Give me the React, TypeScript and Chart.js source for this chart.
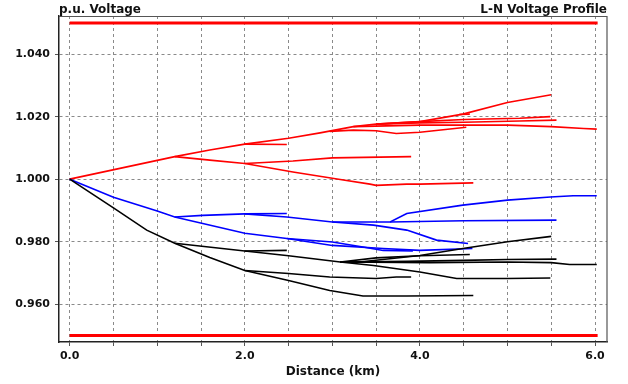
import { useEffect, useRef } from "react";
import { Chart, registerables } from "chart.js";

Chart.register(...registerables);

// ---- axis ticks ----
const xTickValues = [0, 0.5, 1, 1.5, 2, 2.5, 3, 3.5, 4, 4.5, 5, 5.5, 6];
const yTickValues = [0.96, 0.98, 1.0, 1.02, 1.04];

// ---- limits (p.u.) ----
const limitHigh = [[0, 1.05], [6.03, 1.05]];
const limitLow = [[0, 0.95], [6.03, 0.95]];

// ---- red phase: [km, p.u.] ----
const red1 = [[0, 1.0], [0.6, 1.0036], [1.2, 1.0072], [1.6, 1.0093], [2.0, 1.0112], [2.5, 1.0131], [2.86, 1.0148], [3.24, 1.0168], [3.5, 1.0176], [4.0, 1.0184], [4.49, 1.0208], [5.0, 1.0245], [5.5, 1.027]];
const red2 = [[2.0, 1.0112], [2.48, 1.0111]];
const red3 = [[3.5, 1.0176], [4.0, 1.0184], [4.5, 1.0191], [5.14, 1.0195], [5.49, 1.02]];
const red4 = [[3.5, 1.0176], [4.0, 1.018], [4.5, 1.0182], [5.14, 1.0186], [5.56, 1.0189]];
const red5 = [[3.24, 1.0168], [4.0, 1.0173], [5.0, 1.0173], [5.5, 1.0168], [5.87, 1.0162], [6.02, 1.016]];
const red6 = [[2.97, 1.0153], [3.24, 1.0157], [3.5, 1.0155], [3.73, 1.0146], [4.0, 1.015], [4.53, 1.0166]];
const red7 = [[4.45, 1.0207], [4.57, 1.0208]];
const red8 = [[1.2, 1.0072], [1.6, 1.0061], [2.0, 1.005], [2.55, 1.0058], [3.0, 1.0068], [3.9, 1.0072]];
const red9 = [[2.0, 1.005], [2.55, 1.0023], [3.09, 0.9999], [3.43, 0.9984], [3.5, 0.998], [3.85, 0.9984], [4.0, 0.9984], [4.61, 0.9988]];

// ---- blue phase ----
const blue1 = [[0, 1.0], [0.5, 0.9942], [1.0, 0.9898], [1.2, 0.9879], [1.52, 0.9884], [2.0, 0.9889], [2.48, 0.989]];
const blue2 = [[2.0, 0.9889], [2.48, 0.9879], [3.0, 0.9863], [3.66, 0.9863], [3.85, 0.989], [4.49, 0.9917], [5.0, 0.9933], [5.49, 0.9943], [5.75, 0.9947], [6.02, 0.9947]];
const blue3 = [[3.66, 0.9863], [4.5, 0.9867], [5.56, 0.9869]];
const blue4 = [[3.0, 0.9863], [3.47, 0.9853], [3.85, 0.9837], [4.19, 0.9805], [4.55, 0.9794]];
const blue5 = [[1.2, 0.9879], [2.0, 0.9827], [2.48, 0.981], [3.0, 0.9788], [3.58, 0.9778], [4.0, 0.9772], [4.6, 0.9778]];
const blue6 = [[2.48, 0.981], [3.0, 0.9799], [3.35, 0.9783], [3.58, 0.9772], [3.92, 0.977]];

// ---- black phase ----
const black1 = [[0, 1.0], [0.5, 0.9908], [0.88, 0.9837], [1.2, 0.9795], [1.6, 0.9749], [2.0, 0.9708], [2.5, 0.9676], [2.97, 0.9644], [3.35, 0.9626], [3.85, 0.9626], [4.61, 0.9628]];
const black2 = [[2.0, 0.9708], [2.5, 0.9698], [2.97, 0.9687], [3.5, 0.9682], [3.73, 0.9687], [3.9, 0.9687]];
const black3 = [[1.2, 0.9795], [2.0, 0.977], [2.48, 0.9772]];
const black4 = [[2.0, 0.977], [2.5, 0.9755], [3.09, 0.9735], [3.31, 0.9735], [4.0, 0.9756], [4.49, 0.9778], [5.0, 0.98], [5.5, 0.9817]];
const black5 = [[3.09, 0.9735], [3.5, 0.9748], [4.0, 0.9755], [4.57, 0.9759]];
const black6 = [[3.09, 0.9735], [3.85, 0.9737], [4.5, 0.974], [5.0, 0.9743], [5.56, 0.9744]];
const black7 = [[3.09, 0.9735], [4.11, 0.9733], [5.0, 0.9735], [5.5, 0.9733], [5.71, 0.9727], [6.02, 0.9727]];
const black8 = [[3.09, 0.9735], [3.47, 0.9724], [4.0, 0.9703], [4.42, 0.9682], [5.0, 0.9682], [5.49, 0.9684]];

const blackSeries = [black1, black2, black3, black4, black5, black6, black7, black8];
const blueSeries = [blue1, blue2, blue3, blue4, blue5, blue6];
const redSeries = [red1, red2, red3, red4, red5, red6, red7, red8, red9];

const FONT = '"DejaVu Sans", Verdana, sans-serif';

const toPts = (arr: number[][]) => arr.map(([x, y]) => ({ x, y }));

const framePlugin = {
  id: "frame",
  afterDraw(chart: any) {
    const { ctx, chartArea: a } = chart;
    ctx.save();
    ctx.strokeStyle = "#555";
    ctx.lineWidth = 1.2;
    ctx.beginPath();
    ctx.moveTo(a.left, a.top + 0.5);
    ctx.lineTo(a.right, a.top + 0.5);
    ctx.moveTo(a.right, a.top);
    ctx.lineTo(a.right, a.bottom);
    ctx.stroke();
    ctx.fillStyle = "#111";
    ctx.font = `bold 12px ${FONT}`;
    ctx.textBaseline = "alphabetic";
    ctx.textAlign = "left";
    ctx.fillText("p.u. Voltage", a.left, 13);
    ctx.textAlign = "right";
    ctx.fillText("L-N Voltage Profile", a.right, 13);
    ctx.restore();
  },
};

export default function App() {
  const ref = useRef<HTMLCanvasElement | null>(null);
  useEffect(() => {
    if (!ref.current) return;
    const mk = (arr: number[][], color: string, w = 1.6) => ({
      data: toPts(arr),
      borderColor: color,
      backgroundColor: color,
      borderWidth: w,
      pointRadius: 0,
      tension: 0,
      fill: false,
    });
    const datasets = [
      ...blackSeries.map((s) => mk(s, "#000000")),
      ...blueSeries.map((s) => mk(s, "#0000ff")),
      ...redSeries.map((s) => mk(s, "#ff0000")),
      mk(limitHigh, "#ff0000", 3),
      mk(limitLow, "#ff0000", 3),
    ];
    const gridOpts = {
      color: "#8a8a8a",
      lineWidth: 1,
      tickLength: 4,
      tickColor: "#555",
      tickBorderDash: [],
    };
    const borderOpts = { display: true, color: "#222", width: 1.5, dash: [3, 3] };
    const chart = new Chart(ref.current, {
      type: "line",
      data: { datasets },
      plugins: [framePlugin],
      options: {
        responsive: false,
        animation: false,
        layout: { padding: { top: 16, right: 21, left: 0, bottom: 0 } },
        plugins: { legend: { display: false }, tooltip: { enabled: false } },
        scales: {
          x: {
            type: "linear",
            min: -0.122,
            max: 6.137,
            afterFit: (axis: any) => {
              axis.height = 42;
            },
            afterBuildTicks: (axis: any) => {
              axis.ticks = xTickValues.map((v) => ({ value: v }));
            },
            ticks: {
              autoSkip: false,
              maxRotation: 0,
              padding: 4,
              color: "#111",
              font: { family: FONT, size: 11, weight: "bold" },
              callback: (v: any) => (Math.abs(Number(v) % 2) < 1e-9 ? Number(v).toFixed(1) : ""),
            },
            grid: gridOpts,
            border: borderOpts,
            title: {
              display: true,
              text: "Distance (km)",
              color: "#111",
              font: { family: FONT, size: 12, weight: "bold" },
              padding: { top: 0, bottom: 5 },
            },
          },
          y: {
            type: "linear",
            min: 0.9479,
            max: 1.0522,
            afterFit: (axis: any) => {
              axis.width = 59;
            },
            afterBuildTicks: (axis: any) => {
              axis.ticks = yTickValues.map((v) => ({ value: v }));
            },
            ticks: {
              autoSkip: false,
              padding: 5,
              color: "#111",
              font: { family: FONT, size: 11, weight: "bold" },
              callback: (v: any) => Number(v).toFixed(3),
            },
            grid: gridOpts,
            border: borderOpts,
          },
        },
      },
    } as any);
    return () => chart.destroy();
  }, []);
  return (
    <div style={{ position: "fixed", left: 0, top: 0, width: 628, height: 384, background: "#fff" }}>
      <canvas ref={ref} width={628} height={384} style={{ display: "block" }} />
    </div>
  );
}
